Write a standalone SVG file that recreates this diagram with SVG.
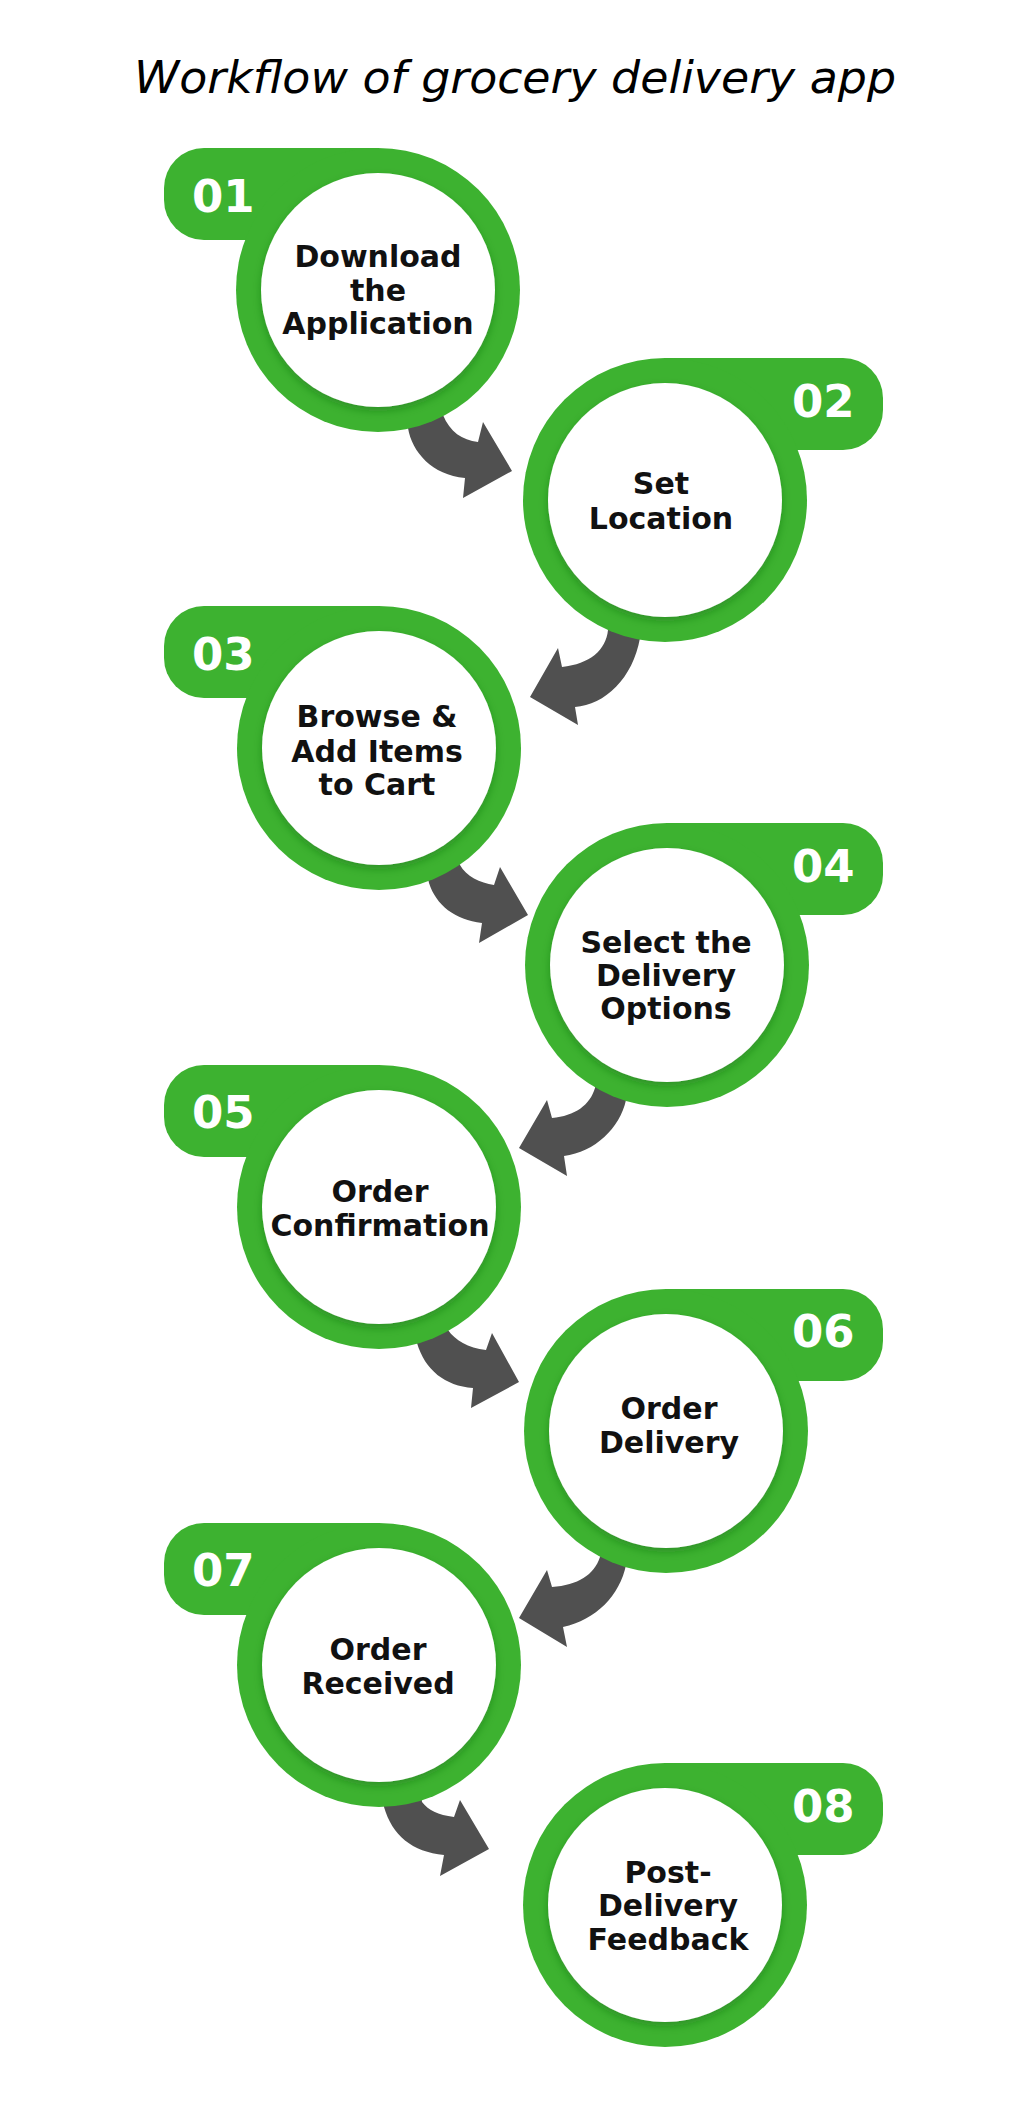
<svg xmlns="http://www.w3.org/2000/svg" width="1024" height="2103" viewBox="0 0 1024 2103">
  <defs>
    <filter id="sh" x="-20%" y="-20%" width="140%" height="140%">
      <feDropShadow dx="0" dy="4" stdDeviation="4" flood-color="#1f6a12" flood-opacity="0.45"/>
    </filter>
    <style>
      .ring { fill: #3db230; }
      .inner { fill: #ffffff; filter: url(#sh); }
      .num { font-family: "DejaVu Sans", "Liberation Sans", sans-serif; font-weight: bold; font-size: 45px; fill: #ffffff; }
      .lbl { font-family: "DejaVu Sans", "Liberation Sans", sans-serif; font-weight: bold; font-size: 30px; fill: #111111; text-anchor: middle; }
      .arrow { fill: #505050; }
      .title { font-family: "DejaVu Sans", "Liberation Sans", sans-serif; font-style: italic; font-size: 44px; fill: #000000; text-anchor: middle; }
    </style>
  </defs>
  <rect width="1024" height="2103" fill="#ffffff"/>
  <text class="title" x="515" y="93" textLength="762" lengthAdjust="spacingAndGlyphs">Workflow of grocery delivery app</text>

  <g id="connectors">
    <path class="arrow" d="M 404 405 L 408 428 C 412 452, 432 475, 465 478 L 463 498 L 512 471 L 483 422 L 478 442 C 462 440, 450 432, 443 415 L 440 400 Z"/>
    <path class="arrow" d="M 606 615 L 608 630 C 606 650, 590 664, 562 667 L 558 648 L 530 697 L 578 725 L 575 707 C 605 705, 633 678, 640 638 L 640 615 Z"/>
    <path class="arrow" d="M 425 865 L 429 883 C 436 905, 455 920, 482 923 L 479 943 L 528 915 L 500 867 L 494 885 C 480 883, 466 876, 460 865 L 455 855 Z"/>
    <path class="arrow" d="M 598 1070 L 595 1088 C 590 1105, 575 1116, 552 1118 L 547 1100 L 519 1148 L 567 1176 L 564 1156 C 595 1152, 620 1128, 626 1100 L 628 1080 Z"/>
    <path class="arrow" d="M 414 1325 L 417 1343 C 425 1370, 445 1386, 473 1388 L 471 1408 L 519 1382 L 492 1333 L 486 1350 C 468 1348, 455 1340, 448 1330 L 445 1315 Z"/>
    <path class="arrow" d="M 603 1540 L 600 1557 C 594 1575, 578 1585, 552 1587 L 547 1570 L 519 1618 L 567 1647 L 563 1627 C 596 1620, 620 1595, 626 1565 L 628 1545 Z"/>
    <path class="arrow" d="M 383 1790 L 384 1807 C 392 1835, 412 1852, 444 1855 L 440 1876 L 489 1849 L 460 1800 L 454 1817 C 438 1815, 428 1810, 422 1802 L 420 1785 Z"/>
  </g>

  <g id="node01">
    <path class="ring" d="M 378 148 H 204 A 40 40 0 0 0 164 188 V 200 A 40 40 0 0 0 204 240 H 378 Z"/>
    <circle class="ring" cx="378" cy="290" r="142"/>
    <circle class="inner" cx="378" cy="290" r="117"/>
    <text class="num" x="192" y="212">01</text>
    <text class="lbl" x="378" y="267">Download</text>
    <text class="lbl" x="378" y="301">the</text>
    <text class="lbl" x="378" y="334">Application</text>
  </g>

  <g id="node02">
    <path class="ring" d="M 665 358 H 843 A 40 40 0 0 1 883 398 V 410 A 40 40 0 0 1 843 450 H 665 Z"/>
    <circle class="ring" cx="665" cy="500" r="142"/>
    <circle class="inner" cx="665" cy="500" r="117"/>
    <text class="num" x="792" y="417">02</text>
    <text class="lbl" x="661" y="494">Set</text>
    <text class="lbl" x="661" y="529">Location</text>
  </g>

  <g id="node03">
    <path class="ring" d="M 379 606 H 204 A 40 40 0 0 0 164 646 V 658 A 40 40 0 0 0 204 698 H 379 Z"/>
    <circle class="ring" cx="379" cy="748" r="142"/>
    <circle class="inner" cx="379" cy="748" r="117"/>
    <text class="num" x="192" y="670">03</text>
    <text class="lbl" x="377" y="727">Browse &amp;</text>
    <text class="lbl" x="377" y="762">Add Items</text>
    <text class="lbl" x="377" y="795">to Cart</text>
  </g>

  <g id="node04">
    <path class="ring" d="M 667 823 H 843 A 40 40 0 0 1 883 863 V 875 A 40 40 0 0 1 843 915 H 667 Z"/>
    <circle class="ring" cx="667" cy="965" r="142"/>
    <circle class="inner" cx="667" cy="965" r="117"/>
    <text class="num" x="792" y="882">04</text>
    <text class="lbl" x="666" y="953">Select the</text>
    <text class="lbl" x="666" y="986">Delivery</text>
    <text class="lbl" x="666" y="1019">Options</text>
  </g>

  <g id="node05">
    <path class="ring" d="M 379 1065 H 204 A 40 40 0 0 0 164 1105 V 1117 A 40 40 0 0 0 204 1157 H 379 Z"/>
    <circle class="ring" cx="379" cy="1207" r="142"/>
    <circle class="inner" cx="379" cy="1207" r="117"/>
    <text class="num" x="192" y="1128">05</text>
    <text class="lbl" x="380" y="1202">Order</text>
    <text class="lbl" x="380" y="1236">Confirmation</text>
  </g>

  <g id="node06">
    <path class="ring" d="M 666 1289 H 843 A 40 40 0 0 1 883 1329 V 1341 A 40 40 0 0 1 843 1381 H 666 Z"/>
    <circle class="ring" cx="666" cy="1431" r="142"/>
    <circle class="inner" cx="666" cy="1431" r="117"/>
    <text class="num" x="792" y="1347">06</text>
    <text class="lbl" x="669" y="1419">Order</text>
    <text class="lbl" x="669" y="1453">Delivery</text>
  </g>

  <g id="node07">
    <path class="ring" d="M 379 1523 H 204 A 40 40 0 0 0 164 1563 V 1575 A 40 40 0 0 0 204 1615 H 379 Z"/>
    <circle class="ring" cx="379" cy="1665" r="142"/>
    <circle class="inner" cx="379" cy="1665" r="117"/>
    <text class="num" x="192" y="1586">07</text>
    <text class="lbl" x="378" y="1660">Order</text>
    <text class="lbl" x="378" y="1694">Received</text>
  </g>

  <g id="node08">
    <path class="ring" d="M 665 1763 H 843 A 40 40 0 0 1 883 1803 V 1815 A 40 40 0 0 1 843 1855 H 665 Z"/>
    <circle class="ring" cx="665" cy="1905" r="142"/>
    <circle class="inner" cx="665" cy="1905" r="117"/>
    <text class="num" x="792" y="1822">08</text>
    <text class="lbl" x="668" y="1883">Post-</text>
    <text class="lbl" x="668" y="1916">Delivery</text>
    <text class="lbl" x="668" y="1950">Feedback</text>
  </g>
</svg>
